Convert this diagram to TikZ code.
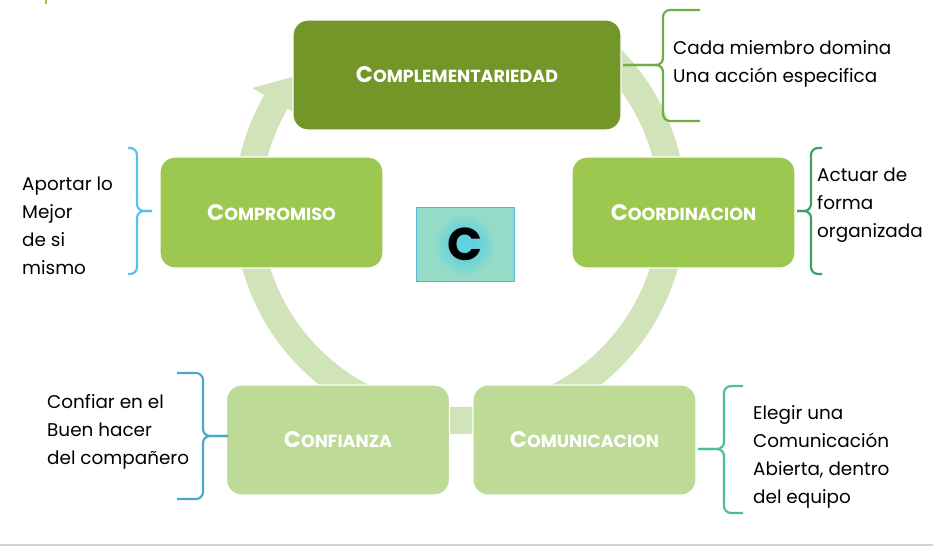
\documentclass[tikz,border=0pt]{standalone}
\usepackage{fontspec}
\setmainfont{Poppins}
\usetikzlibrary{calc}
\definecolor{oscuro}{RGB}{114,150,40}
\definecolor{medio}{RGB}{156,200,80}
\definecolor{claro}{RGB}{189,218,150}
\definecolor{anillo}{RGB}{209,227,185}
\definecolor{cfondo}{RGB}{148,220,200}
\definecolor{cborde}{RGB}{90,180,210}
\definecolor{cbrillo}{RGB}{70,205,235}
\definecolor{verdeL}{RGB}{112,173,71}
\definecolor{verdeO}{RGB}{60,160,100}
\definecolor{turquesa}{RGB}{75,190,155}
\definecolor{celeste}{RGB}{90,190,240}
\definecolor{azul}{RGB}{70,170,200}
\tikzstyle{caja}=[rectangle, rounded corners=15pt, draw=white, line width=1.2pt, minimum width=223pt, minimum height=111pt, text=white, font=\bfseries, inner sep=0pt, anchor=center]
\tikzstyle{nota}=[align=left, anchor=west, inner sep=0pt, font=\fontsize{18.4}{28}\selectfont]
\tikzstyle{bracket}=[line width=2.2pt, rounded corners=7pt]
\newcommand{\versal}[2]{{\fontsize{22.5}{26}\selectfont #1}{\fontsize{17.5}{26}\selectfont #2}}
% end x, spine x, tip x, top y, mid y, bottom y
\newcommand{\drawbrace}[7]
{
  \draw[bracket, #1] (#2,#5) -- (#3,#5) -- (#3,#6) -- (#4,#6);
  \draw[bracket, #1] (#2,#7) -- (#3,#7) -- (#3,#6) -- (#4,#6);
}

\begin{document}
\begin{tikzpicture}[x=1pt, y=-1pt]
	\useasboundingbox (0,0) rectangle (933,546);
	\coordinate (ctr) at (460,208);

	% anillo con flecha
	\draw[anillo, line width=27pt] ([shift={(-50:212.5)}]ctr) arc[start angle=-50, end angle=211, radius=212.5];
	\fill[anillo] ([shift={(210:184)}]ctr) -- ([shift={(210:240)}]ctr) -- ([shift={(221:205)}]ctr) -- cycle;

	\node[caja, fill=oscuro, minimum width=328pt, minimum height=110pt](compl) at (457,75){\versal{C}{OMPLEMENTARIEDAD}};
	\node[caja, fill=medio](compro) at (271.5,212.5){\versal{C}{OMPROMISO}};
	\node[caja, fill=medio](coord) at (683.5,212.5){\versal{C}{OORDINACION}};
	\node[caja, fill=claro, minimum height=110pt](confi) at (338,440){\versal{C}{ONFIANZA}};
	\node[caja, fill=claro, minimum height=110pt](comun) at (584.5,440){\versal{C}{OMUNICACION}};

	\node[rectangle, draw=cborde, fill=cfondo, line width=1pt, minimum width=98pt, minimum height=74pt, inner sep=0pt,
		path picture={\foreach \r in {29,26,...,11}
			\fill[cbrillo, opacity=0.13] ([yshift=-1pt]path picture bounding box.center) circle[radius=\r pt];},
		font=\fontsize{46}{46}\selectfont\bfseries](cbox) at (465,244){C};

	\drawbrace{verdeL}{700}{663}{623}{10}{65}{121}
	\drawbrace{verdeO}{822}{811}{797}{148}{211}{274}
	\drawbrace{turquesa}{743}{724}{698}{386}{449}{513}
	\drawbrace{celeste}{128}{137}{152}{148}{211}{274}
	\drawbrace{azul}{177}{203}{228}{373}{436}{499}

	\node[nota](tcompl) at (673,64){Cada miembro domina\\Una acción especifica};
	\node[nota](tcoord) at (817,205){Actuar de\\forma\\organizada};
	\node[nota](tcomun) at (753,456.5){Elegir una\\Comunicación\\Abierta, dentro\\del equipo};
	\node[nota](tcompro) at (22,225.5){Aportar lo\\Mejor\\de si\\mismo};
	\node[nota](tconfi) at (47,431.5){Confiar en el\\Buen hacer\\del compañero};

	\draw[medio, line width=1.5pt] (46,0) -- (46,4);
	\draw[black!18, line width=1.2pt] (0,545) -- (933,545);
\end{tikzpicture}
\end{document}
